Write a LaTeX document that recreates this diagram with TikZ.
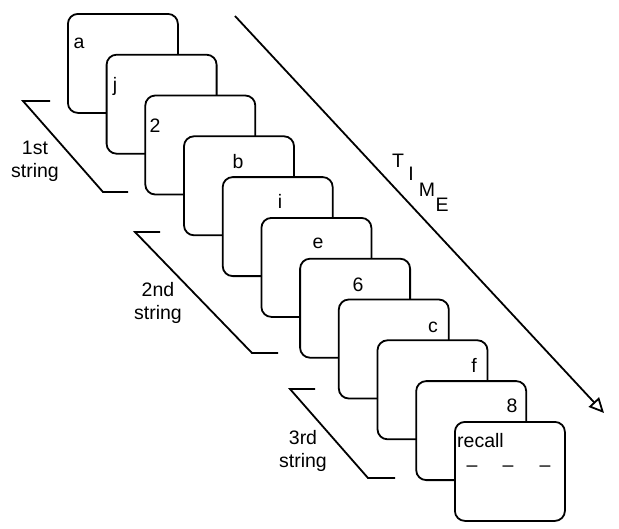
\documentclass[tikz,border=0pt]{standalone}
\usepackage{fontspec}
\setmainfont{Liberation Sans}
\usetikzlibrary{arrows.meta}
\tikzset{
  card/.style={draw, fill=white, line width=1.8pt, rounded corners=10pt, anchor=north west,
    minimum width=110pt, minimum height=99pt, inner sep=0pt},
  lbl/.style={font=\fontsize{19.5}{22}\selectfont, inner sep=0pt, anchor=base},
  strlbl/.style={font=\fontsize{19.5}{23}\selectfont, align=center, inner sep=0pt},
  brk/.style={line width=1.8pt},
  timearrow/.style={line width=1.8pt, -{Triangle[open, length=15pt, width=14pt, line width=1.8pt]}}
}
\begin{document}
\begin{tikzpicture}[x=1pt,y=-1pt]
\useasboundingbox (0,0) rectangle (619,528);
% cards
\node[card] (c0) at (67,13) {};
\node[lbl] (t0) at (79,48) {a};
\node[card] (c1) at (105.7,53.8) {};
\node[lbl] (t1) at (115,91) {j};
\node[card] (c2) at (144.4,94.6) {};
\node[lbl] (t2) at (155,132) {2};
\node[card] (c3) at (183.1,135.4) {};
\node[lbl] (t3) at (238,168) {b};
\node[card] (c4) at (221.8,176.2) {};
\node[lbl] (t4) at (280,208) {i};
\node[card] (c5) at (260.5,217) {};
\node[lbl] (t5) at (318,248) {e};
\node[card] (c6) at (299.2,257.8) {};
\node[lbl] (t6) at (358,291) {6};
\node[card] (c7) at (337.9,298.6) {};
\node[lbl] (t7) at (433,332) {c};
\node[card] (c8) at (376.6,339.4) {};
\node[lbl] (t8) at (474,372) {f};
\node[card] (c9) at (415.3,380.2) {};
\node[lbl] (t9) at (512,412) {8};
\node[card] (c10) at (454,421) {};
\node[lbl, anchor=base west] (t10) at (457,447) {recall};
\node[lbl] (d1) at (472,471) {–};
\node[lbl] (d2) at (508,471) {–};
\node[lbl] (d3) at (545,471) {–};
% brackets
\coordinate (b1a) at (50,101); \coordinate (b1b) at (23,101);
\coordinate (b1c) at (103,192); \coordinate (b1d) at (128,192);
\draw[brk] (b1a) -- (b1b) -- (b1c) -- (b1d);
\node[strlbl] (s1) at (35,161) {1st\\string};
\coordinate (b2a) at (160,232); \coordinate (b2b) at (135,232);
\coordinate (b2c) at (252,353); \coordinate (b2d) at (278,353);
\draw[brk] (b2a) -- (b2b) -- (b2c) -- (b2d);
\node[strlbl] (s2) at (158,303) {2nd\\string};
\coordinate (b3a) at (315,389); \coordinate (b3b) at (290,389);
\coordinate (b3c) at (368,478); \coordinate (b3d) at (395,478);
\draw[brk] (b3a) -- (b3b) -- (b3c) -- (b3d);
\node[strlbl] (s3) at (303,451) {3rd\\string};
% time arrow
\coordinate (ta) at (235,16);
\coordinate (tb) at (604,413);
\draw[timearrow] (ta) -- (tb);
\node[lbl, anchor=center] (tT) at (398,161) {T};
\node[lbl, anchor=center] (tI) at (411,174) {I};
\node[lbl, anchor=center] (tM) at (427,190) {M};
\node[lbl, anchor=center] (tE) at (442,205) {E};
\end{tikzpicture}
\end{document}
